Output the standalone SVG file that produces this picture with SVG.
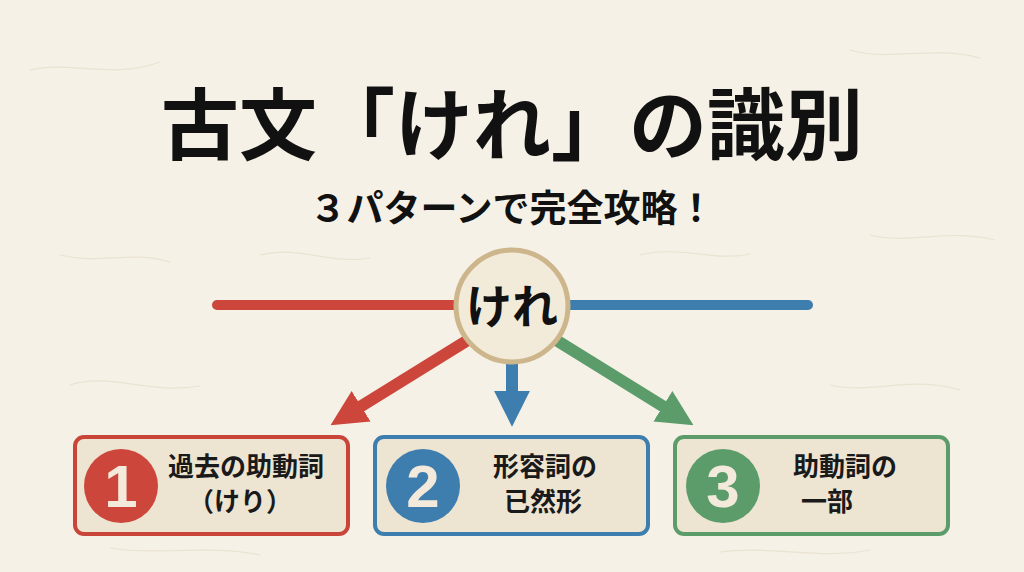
<svg xmlns="http://www.w3.org/2000/svg" width="1024" height="572" viewBox="0 0 1024 572">
<defs>
<style>
.title{font-family:"Noto Sans CJK JP","Noto Sans CJK SC",sans-serif;font-weight:700;fill:#111;text-anchor:middle}
.lbl{font-family:"Noto Sans CJK JP","Noto Sans CJK SC",sans-serif;font-weight:700;fill:#1a1a1a;text-anchor:middle;font-size:26px}
.num{font-family:"Liberation Sans","Noto Sans",sans-serif;font-weight:700;fill:#f3eadb;text-anchor:middle;font-size:60px}
.box{fill:#ede4d1;stroke-width:4}
.fiber{fill:none;stroke:#e6ddc8;stroke-width:1.2;stroke-linecap:round;opacity:0.7}
</style>
<marker id="ahR" viewBox="0 0 10 10" refX="2" refY="5" markerWidth="3" markerHeight="3.2" orient="auto" markerUnits="strokeWidth"><path d="M0,0 L10,5 L0,10 z" fill="#cc463b"/></marker>
<marker id="ahB" viewBox="0 0 10 10" refX="2" refY="5" markerWidth="3" markerHeight="3.2" orient="auto" markerUnits="strokeWidth"><path d="M0,0 L10,5 L0,10 z" fill="#3d7eae"/></marker>
<marker id="ahG" viewBox="0 0 10 10" refX="2" refY="5" markerWidth="3" markerHeight="3.2" orient="auto" markerUnits="strokeWidth"><path d="M0,0 L10,5 L0,10 z" fill="#5b9c6a"/></marker>
</defs>
<rect width="1024" height="572" fill="#f5f1e6"/>
<g id="texture">
<path class="fiber" d="M30,70 C70,60 110,80 160,62"/>
<path class="fiber" d="M850,50 C890,62 930,45 980,58"/>
<path class="fiber" d="M60,255 C100,265 130,250 170,262"/>
<path class="fiber" d="M870,235 C910,245 950,228 995,240"/>
<path class="fiber" d="M260,255 C300,245 330,265 370,258"/>
<path class="fiber" d="M640,255 C680,245 715,262 750,254"/>
<path class="fiber" d="M70,385 C110,372 150,395 200,386"/>
<path class="fiber" d="M830,385 C870,395 910,375 960,390"/>
<path class="fiber" d="M110,548 C160,556 210,544 260,555"/>
<path class="fiber" d="M720,552 C770,545 820,560 870,550"/>
</g>
<g id="title">
<text class="title" x="512" y="154" font-size="78">古文「けれ」の識別</text>
<text class="title" x="512" y="222" font-size="37">３パターンで完全攻略！</text>
</g>
<g id="connectors">
<line x1="217" y1="305" x2="458" y2="305" stroke="#cc463b" stroke-width="10" stroke-linecap="round"/>
<line x1="566" y1="305" x2="808" y2="305" stroke="#3d7eae" stroke-width="10" stroke-linecap="round"/>
<line x1="468" y1="340" x2="355" y2="410" stroke="#cc463b" stroke-width="12" marker-end="url(#ahR)"/>
<line x1="512" y1="360" x2="512" y2="398" stroke="#3d7eae" stroke-width="12" marker-end="url(#ahB)"/>
<line x1="556" y1="340" x2="669" y2="410" stroke="#5b9c6a" stroke-width="12" marker-end="url(#ahG)"/>
</g>
<g id="center">
<circle cx="512" cy="306" r="56" fill="#f3ebda" stroke="#cdb58c" stroke-width="5"/>
<text x="512" y="323" font-family="'Noto Sans CJK JP',sans-serif" font-weight="700" font-size="46" text-anchor="middle" fill="#111">けれ</text>
</g>
<g id="node1">
<rect class="box" x="75" y="437" width="273" height="97" rx="9" stroke="#c9453a"/>
<circle cx="121" cy="486" r="37" fill="#cc463b"/>
<text class="num" x="121" y="507">1</text>
<text class="lbl" x="246" y="476">過去の助動詞</text>
<text class="lbl" x="240" y="511">（けり）</text>
</g>
<g id="node2">
<rect class="box" x="375" y="437" width="273" height="97" rx="9" stroke="#3d7eae"/>
<circle cx="423" cy="486" r="37" fill="#3d7eae"/>
<text class="num" x="423" y="507">2</text>
<text class="lbl" x="545" y="476">形容詞の</text>
<text class="lbl" x="543" y="511">已然形</text>
</g>
<g id="node3">
<rect class="box" x="675" y="437" width="273" height="97" rx="9" stroke="#5b9c6a"/>
<circle cx="723" cy="486" r="37" fill="#5b9c6a"/>
<text class="num" x="723" y="507">3</text>
<text class="lbl" x="845" y="476">助動詞の</text>
<text class="lbl" x="827" y="511">一部</text>
</g>
</svg>
